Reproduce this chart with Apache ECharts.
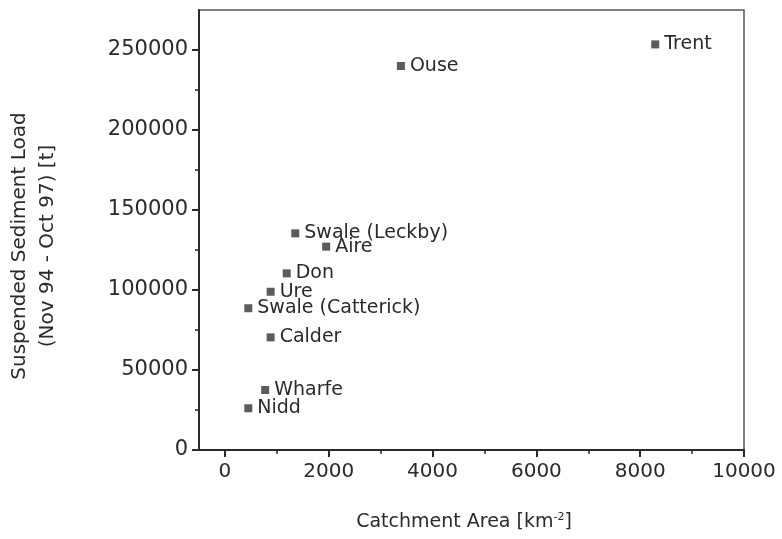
<!DOCTYPE html>
<html>
<head>
<meta charset="utf-8">
<script src="https://cdn.jsdelivr.net/npm/echarts@6/dist/echarts.min.js"></script>
<style>
html,body{margin:0;padding:0;background:#fff;}
#chart{width:782px;height:539px;}
</style>
</head>
<body>
<div id="chart"></div>
<script>
// River names
var rivers = ["Trent", "Ouse", "Swale (Leckby)", "Aire", "Don", "Ure", "Swale (Catterick)", "Calder", "Wharfe", "Nidd"];
// Catchment area [km-2]
var catchmentArea = [8290, 3390, 1355, 1950, 1190, 880, 450, 880, 775, 450];
// Suspended sediment load [t]
var sedimentLoad = [253500, 240000, 135400, 127100, 110400, 98900, 88600, 70400, 37500, 26100];
// Tick values
var xMajorTicks = [0, 2000, 4000, 6000, 8000, 10000];
var xMinorTicks = [1000, 3000, 5000, 7000, 9000];
var yMajorTicks = [0, 50000, 100000, 150000, 200000, 250000];
var yMinorTicks = [25000, 75000, 125000, 175000, 225000];

var FONT = "DejaVu Sans";
var INK = "#2a2a2a";

var points = rivers.map(function (n, i) {
  return { name: n, value: [catchmentArea[i], sedimentLoad[i]] };
});
function plain(v) { return String(v); }

var chart = echarts.init(document.getElementById('chart'), null, { renderer: 'canvas' });
chart.setOption({
  animation: false,
  backgroundColor: '#fff',
  grid: {
    left: 199, right: 38, top: 10, bottom: 89,
    show: true, borderColor: '#555', borderWidth: 1.5, backgroundColor: 'transparent'
  },
  xAxis: [{
    type: 'value', min: -500, max: 10000, position: 'bottom',
    splitLine: { show: false },
    axisLine: { show: true, onZero: false, lineStyle: { color: INK, width: 2 } },
    axisTick: { show: true, customValues: xMajorTicks, length: 7, lineStyle: { color: INK, width: 2 } },
    axisLabel: { show: true, customValues: xMajorTicks, formatter: plain, margin: 12, color: INK, fontFamily: FONT, fontSize: 20 }
  }, {
    type: 'value', min: -500, max: 10000, position: 'bottom',
    splitLine: { show: false },
    axisLine: { show: false, onZero: false },
    axisTick: { show: true, customValues: xMinorTicks, length: 4, lineStyle: { color: INK, width: 1.5 } },
    axisLabel: { show: false }
  }],
  yAxis: [{
    type: 'value', min: 0, max: 275000, position: 'left',
    splitLine: { show: false },
    axisLine: { show: true, onZero: false, lineStyle: { color: INK, width: 2 } },
    axisTick: { show: true, customValues: yMajorTicks, length: 7, lineStyle: { color: INK, width: 2 } },
    axisLabel: { show: true, customValues: yMajorTicks, formatter: plain, margin: 11, color: INK, fontFamily: FONT, fontSize: 21 }
  }, {
    type: 'value', min: 0, max: 275000, position: 'left',
    splitLine: { show: false },
    axisLine: { show: false, onZero: false },
    axisTick: { show: true, customValues: yMinorTicks, length: 4, lineStyle: { color: INK, width: 1.5 } },
    axisLabel: { show: false }
  }],
  series: [{
    type: 'scatter',
    xAxisIndex: 0, yAxisIndex: 0,
    symbol: 'rect', symbolSize: 8,
    itemStyle: { color: '#333' },
    label: {
      show: true, position: 'right', distance: 5, formatter: '{b}',
      color: INK, fontFamily: FONT, fontSize: 19,
      textBorderWidth: 0, textBorderColor: 'transparent', opacity: 1
    },
    emphasis: { disabled: true },
    data: points
  }],
  graphic: [{
    type: 'text', x: 34, y: 246, rotation: Math.PI / 2,
    style: {
      text: 'Suspended Sediment Load\n(Nov 94 - Oct 97) [t]',
      fill: INK, font: '20px "DejaVu Sans"', align: 'center', verticalAlign: 'middle', lineHeight: 28
    }
  }, {
    type: 'text', x: 464, y: 522,
    style: {
      text: '{a|Catchment Area [km}{s|-2}{a|]}',
      align: 'center', verticalAlign: 'middle',
      rich: {
        a: { fill: INK, fontFamily: FONT, fontSize: 19 },
        s: { fill: INK, fontFamily: FONT, fontSize: 11, verticalAlign: 'top', padding: [0, 0, 10, 0] }
      }
    }
  }]
});
</script>
</body>
</html>
